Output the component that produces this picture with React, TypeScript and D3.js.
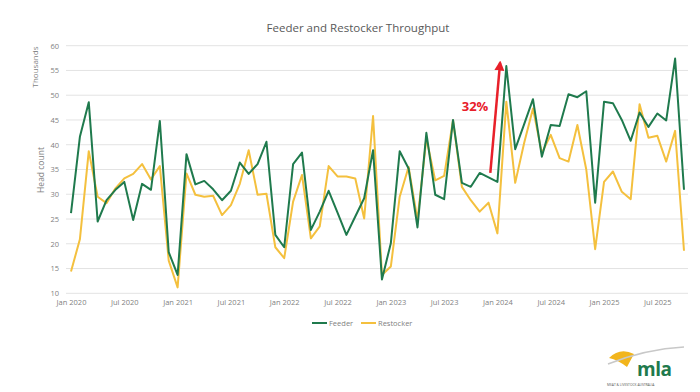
import React, { useRef, useEffect } from 'react';
import * as d3 from 'd3';

// monthly throughput, Jan 2020 .. Oct 2025 (thousand head)
const feeder = [
    26.2, 41.6, 48.6, 24.5, 28.8, 30.9, 32.5, 24.8, 32.1, 30.9, 44.8, 18.3,
    13.7, 38.1, 32.0, 32.7, 31.0, 28.8, 30.7, 36.4, 34.1, 36.1, 40.6, 21.8,
    19.3, 36.1, 38.4, 22.8, 26.5, 30.7, 26.3, 21.8, 25.5, 29.2, 38.9, 12.8,
    20.1, 38.7, 35.2, 23.3, 42.4, 29.9, 29.0, 45.0, 32.3, 31.5, 34.3, 33.4,
    32.5, 55.9, 39.1, 44.1, 49.2, 37.6, 44.0, 43.8, 50.2, 49.6, 50.8, 28.3,
    48.7, 48.4, 45.0, 40.8, 46.5, 43.6, 46.3, 44.9, 57.4, 30.9,
];

const restocker = [
    14.4, 20.9, 38.7, 29.5, 28.2, 31.2, 33.2, 34.1, 36.1, 33.0, 35.7, 16.6,
    11.2, 34.2, 29.9, 29.5, 29.7, 25.8, 27.8, 32.1, 38.9, 29.9, 30.1, 19.3,
    17.1, 28.5, 33.9, 21.1, 23.5, 35.7, 33.6, 33.6, 33.2, 25.1, 45.8, 13.7,
    15.4, 29.5, 35.5, 24.8, 41.3, 32.8, 33.7, 44.9, 31.5, 28.8, 26.5, 28.3,
    22.1, 48.7, 32.3, 40.3, 47.3, 38.3, 42.0, 37.3, 36.6, 44.0, 35.0, 18.9,
    32.5, 34.6, 30.5, 29.0, 48.2, 41.4, 41.8, 36.6, 42.8, 18.6,
];

const tickLabels = [
    'Jan 2020', 'Jul 2020', 'Jan 2021', 'Jul 2021', 'Jan 2022', 'Jul 2022',
    'Jan 2023', 'Jul 2023', 'Jan 2024', 'Jul 2024', 'Jan 2025', 'Jul 2025',
];
const yTicks = [10, 15, 20, 25, 30, 35, 40, 45, 50, 55, 60];

// red arrow: Dec 2023 level -> above Jan 2024 peak
const arrowMonths = [47.2, 48.3];
const arrowValues = [34.3, 56.6];
const arrowLabel = '32%';

const seriesNames = ['Feeder', 'Restocker'];
const colors = ['#1f7a4d', '#f4c03e'];

const width = 700;
const height = 392;
const FONT = "'Open Sans', 'DejaVu Sans', sans-serif";

const App: React.FC = () => {
    const svgRef = useRef<SVGSVGElement | null>(null);

    useEffect(() => {
        if (!svgRef.current) return;
        const svg = d3.select(svgRef.current);
        svg.selectAll('*').remove();

        const xScale = d3.scaleLinear().domain([0, feeder.length - 1]).range([71, 684]);
        const yScale = d3.scaleLinear().domain([10, 60]).range([293.3, 45.7]);

        svg.append('text')
            .attr('x', 358)
            .attr('y', 32)
            .attr('text-anchor', 'middle')
            .attr('font-family', FONT)
            .attr('font-size', 11.5)
            .attr('fill', '#595959')
            .text('Feeder and Restocker Throughput');

        // gridlines
        svg.append('g')
            .selectAll('line')
            .data(yTicks)
            .join('line')
            .attr('x1', 66)
            .attr('x2', 688)
            .attr('y1', (d) => yScale(d))
            .attr('y2', (d) => yScale(d))
            .attr('stroke', '#e3e3e3')
            .attr('stroke-width', 1);

        const yAxis = d3.axisLeft(yScale).tickValues(yTicks).tickSize(0).tickPadding(0);
        const gy = svg.append('g').attr('transform', 'translate(59,0)').call(yAxis);
        gy.select('.domain').remove();
        gy.selectAll('text')
            .attr('font-family', FONT)
            .attr('font-size', 7.5)
            .attr('fill', '#7f7f7f');

        const xAxis = d3
            .axisBottom(xScale)
            .tickValues(tickLabels.map((_, i) => i * 6))
            .tickFormat((_, i) => tickLabels[i])
            .tickSize(0)
            .tickPadding(0);
        const gx = svg.append('g').attr('transform', 'translate(0,300)').call(xAxis);
        gx.select('.domain').remove();
        gx.selectAll('text')
            .attr('font-family', FONT)
            .attr('font-size', 7.5)
            .attr('fill', '#7f7f7f');

        svg.append('text')
            .attr('transform', 'translate(44,170) rotate(-90)')
            .attr('text-anchor', 'middle')
            .attr('font-family', FONT)
            .attr('font-size', 8.5)
            .attr('fill', '#7f7f7f')
            .text('Head count');

        svg.append('text')
            .attr('transform', 'translate(38,67) rotate(-90)')
            .attr('text-anchor', 'middle')
            .attr('font-family', FONT)
            .attr('font-size', 8)
            .attr('fill', '#7f7f7f')
            .text('Thousands');

        const line = d3
            .line<number>()
            .x((_, i) => xScale(i))
            .y((d) => yScale(d));

        [restocker, feeder].forEach((series, k) => {
            svg.append('path')
                .datum(series)
                .attr('fill', 'none')
                .attr('stroke', colors[1 - k])
                .attr('stroke-width', 2)
                .attr('stroke-linejoin', 'round')
                .attr('d', line);
        });

        // annotation
        svg.append('defs')
            .append('marker')
            .attr('id', 'arrowhead')
            .attr('viewBox', '0 0 10 10')
            .attr('refX', 8)
            .attr('refY', 5)
            .attr('markerWidth', 4)
            .attr('markerHeight', 4)
            .attr('orient', 'auto')
            .append('path')
            .attr('d', 'M0,0 L10,5 L0,10 Z')
            .attr('fill', '#e8202a');

        svg.append('line')
            .attr('x1', xScale(arrowMonths[0]))
            .attr('y1', yScale(arrowValues[0]))
            .attr('x2', xScale(arrowMonths[1]))
            .attr('y2', yScale(arrowValues[1]))
            .attr('stroke', '#e8202a')
            .attr('stroke-width', 2.5)
            .attr('marker-end', 'url(#arrowhead)');

        svg.append('text')
            .attr('x', xScale(arrowMonths[0]) - 2)
            .attr('y', yScale(arrowValues[0] + 12.6))
            .attr('text-anchor', 'end')
            .attr('font-family', FONT)
            .attr('font-size', 13)
            .attr('font-weight', 'bold')
            .attr('fill', '#e8202a')
            .text(arrowLabel);

        // legend
        const legend = svg.append('g').attr('transform', 'translate(312,323)');
        const legendX = [0, 49];
        seriesNames.forEach((name, i) => {
            const g = legend.append('g').attr('transform', `translate(${legendX[i]},0)`);
            g.append('line')
                .attr('x1', 0)
                .attr('x2', 15)
                .attr('stroke', colors[i])
                .attr('stroke-width', 2);
            g.append('text')
                .attr('x', 17)
                .attr('y', 3)
                .attr('font-family', FONT)
                .attr('font-size', 7.5)
                .attr('fill', '#7f7f7f')
                .text(name);
        });

        // mla logo (rough)
        const logo = svg.append('g').attr('transform', 'translate(606,345)');
        logo.append('path')
            .attr('d', 'M3,13 Q14,2 28,9 L21,22 Q12,15 3,13 Z')
            .attr('fill', '#f2b51c');
        logo.append('path')
            .attr('d', 'M2,19 Q40,4 78,2')
            .attr('fill', 'none')
            .attr('stroke', '#c8c8c8')
            .attr('stroke-width', 1.5);
        logo.append('text')
            .attr('x', 31)
            .attr('y', 31)
            .attr('font-family', FONT)
            .attr('font-size', 19)
            .attr('font-weight', 'bold')
            .attr('fill', '#1f7a4d')
            .attr('letter-spacing', -0.5)
            .text('mla');
        logo.append('text')
            .attr('x', 1)
            .attr('y', 41)
            .attr('font-family', FONT)
            .attr('font-size', 3.3)
            .attr('fill', '#555')
            .text('MEAT & LIVESTOCK AUSTRALIA');
    }, []);

    return (
        <svg
            ref={svgRef}
            width={width}
            height={height}
            style={{ position: 'absolute', left: 0, top: 0, background: '#fff' }}
        />
    );
};

export default App;
